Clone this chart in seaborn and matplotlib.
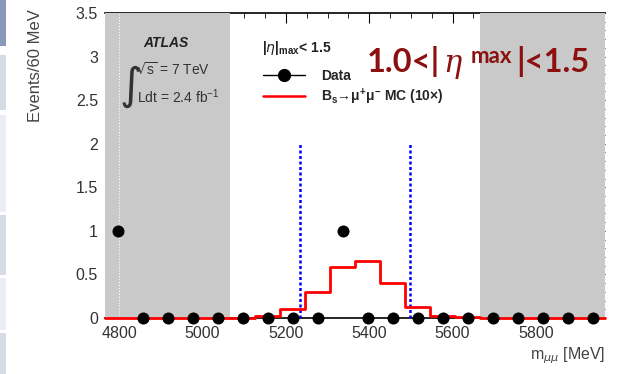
import numpy as np
import matplotlib
matplotlib.use("Agg")
import matplotlib.pyplot as plt
import seaborn as sns
from matplotlib.lines import Line2D
from matplotlib.patches import Rectangle
from matplotlib.ticker import MultipleLocator

# bins of 60 MeV from 4766 to 5966
bin_edges = [4766 + 60 * i for i in range(21)]
bin_centers = [4796 + 60 * i for i in range(20)]
data_counts = [1, 0, 0, 0, 0, 0, 0, 0, 0, 1, 0, 0, 0, 0, 0, 0, 0, 0, 0, 0]
mc_counts = [0, 0, 0, 0, 0, 0.005, 0.02, 0.10, 0.30, 0.58, 0.65, 0.40, 0.13, 0.02, 0.01, 0, 0, 0, 0, 0]
sidebands = [(4766, 5066), (5666, 5966)]
signal_window = [5234, 5498]

sns.set_theme(style="white")
plt.rcParams["font.family"] = ["Liberation Sans", "DejaVu Sans"]
plt.rcParams["mathtext.fontset"] = "dejavusans"

fig = plt.figure(figsize=(6.19, 3.74), dpi=100)
ax = fig.add_axes([105 / 619, 1 - 318 / 374, 500 / 619, 305 / 374])

# gray sidebands (cover frame and ticks there, like the original)
for lo, hi in sidebands:
    ax.axvspan(lo, hi, color="#c9c9c9", lw=0, zorder=2.6)
ax.axvline(4800, color="white", lw=0.8, ls=":", zorder=2.7)

ax.vlines(signal_window, 0, 2.0, colors="blue", linestyles=(0, (1.2, 1.0)), lw=1.8, zorder=3)

sns.histplot(x=bin_centers, weights=mc_counts, bins=bin_edges, element="step",
             fill=False, color="red", lw=2, ax=ax, zorder=4)
# let the MC line show along zero, on top of the frame
for art in ax.lines + ax.collections[len(sidebands):]:
    art.set_clip_on(False)
    art.set_zorder(4)
sns.scatterplot(x=bin_centers, y=data_counts, color="black", s=75, linewidth=0,
                ax=ax, zorder=5, clip_on=False)

ax.set_xlim(4766, 5966)
ax.set_ylim(0, 3.5)
ax.xaxis.set_major_locator(MultipleLocator(200))
ax.xaxis.set_minor_locator(MultipleLocator(50))
ax.yaxis.set_minor_locator(MultipleLocator(0.1))
ax.set_yticks([0, 0.5, 1, 1.5, 2, 2.5, 3, 3.5])
ax.set_yticklabels(["0", "0.5", "1", "1.5", "2", "2.5", "3", "3.5"])
ax.tick_params(which="both", direction="in", top=True, right=True, colors="black",
               labelcolor="#333333", labelsize=11.5)
ax.tick_params(which="major", length=7, width=0.8)
ax.tick_params(which="minor", length=3.5, width=0.6)
ax.tick_params(axis="x", pad=6)
ax.tick_params(axis="y", pad=5)
for side in ["left", "right"]:
    ax.spines[side].set_visible(False)
for side in ["top", "bottom"]:
    ax.spines[side].set_color("black")
    ax.spines[side].set_linewidth(1.2)
ax.set_xlabel("")
ax.set_ylabel("")

fig.text(605 / 619, 1 - 356 / 374, r"m$_{\mu\mu}$ [MeV]", ha="right", va="center",
         fontsize=11.5, color="#444444")
fig.text(35 / 619, 1 - 9 / 374, "Events/60 MeV", rotation=90, ha="center", va="top",
         fontsize=12, color="#444444")

# ATLAS label
fig.text(143 / 619, 1 - 43 / 374, "ATLAS", fontsize=10, fontweight="bold",
         fontstyle="italic", va="center", color="#222222")
fig.text(119 / 619, 1 - 87 / 374, r"$\int$", fontsize=22, va="center", color="#333333")
fig.text(136 / 619, 1 - 70 / 374, r"$\sqrt{\mathregular{s}}$ = 7 TeV", fontsize=10,
         va="center", color="#333333")
fig.text(137 / 619, 1 - 97 / 374, r"Ldt = 2.4 fb$^{\mathregular{-1}}$", fontsize=10,
         va="center", color="#333333")

# legend
fig.text(262 / 619, 1 - 48 / 374, r"|$\eta$|$_{\mathregular{max}}$< 1.5", fontsize=10,
         fontweight="bold", va="center", color="#222222")
handles = [Line2D([], [], color="black", lw=1, marker="o", ms=8.5),
           Line2D([], [], color="red", lw=1.8)]
labels = ["Data", r"B$_\mathregular{s}$→μ$^{\mathregular{+}}$μ$^{\mathregular{-}}$ MC (10×)"]
fig.legend(handles, labels, loc="upper left", bbox_to_anchor=(263 / 619, 1 - 69 / 374),
           frameon=False, handlelength=3, handletextpad=1.2, labelspacing=0.25,
           borderpad=0, borderaxespad=0,
           prop={"family": ["Liberation Sans", "DejaVu Sans"], "weight": "bold", "size": 10})

# big annotation, written in pieces so the superscript sits like the original
red = "#8c1010"
big = dict(fontsize=23.5, fontweight="bold", family=["Lato", "DejaVu Sans"], color=red, va="baseline")
fig.text(367 / 619, 1 - 72 / 374, "1.0<|", **big)
fig.text(443 / 619, 1 - 72 / 374, "η", fontsize=22, fontstyle="italic",
         family=["DejaVu Serif"], color=red, va="baseline")
fig.text(471 / 619, 1 - 63 / 374, "max", fontsize=16, fontweight="bold",
         family=["Lato", "DejaVu Sans"], color=red, va="baseline")
fig.text(516 / 619, 1 - 72 / 374, "|<1.5", **big)

# slide sidebar strips on the left edge
strips = [(0, 46, "#8897ba"), (55, 110, "#d6dbe6"), (115, 212, "#eaedf3"),
          (215, 275, "#d6dbe6"), (278, 330, "#eaedf3"), (333, 374, "#d6dbe6")]
for y0, y1, c in strips:
    fig.add_artist(Rectangle((0, 1 - y1 / 374), 6 / 619, (y1 - y0) / 374,
                             transform=fig.transFigure, color=c, lw=0))

fig.savefig("out.png", dpi=100)
